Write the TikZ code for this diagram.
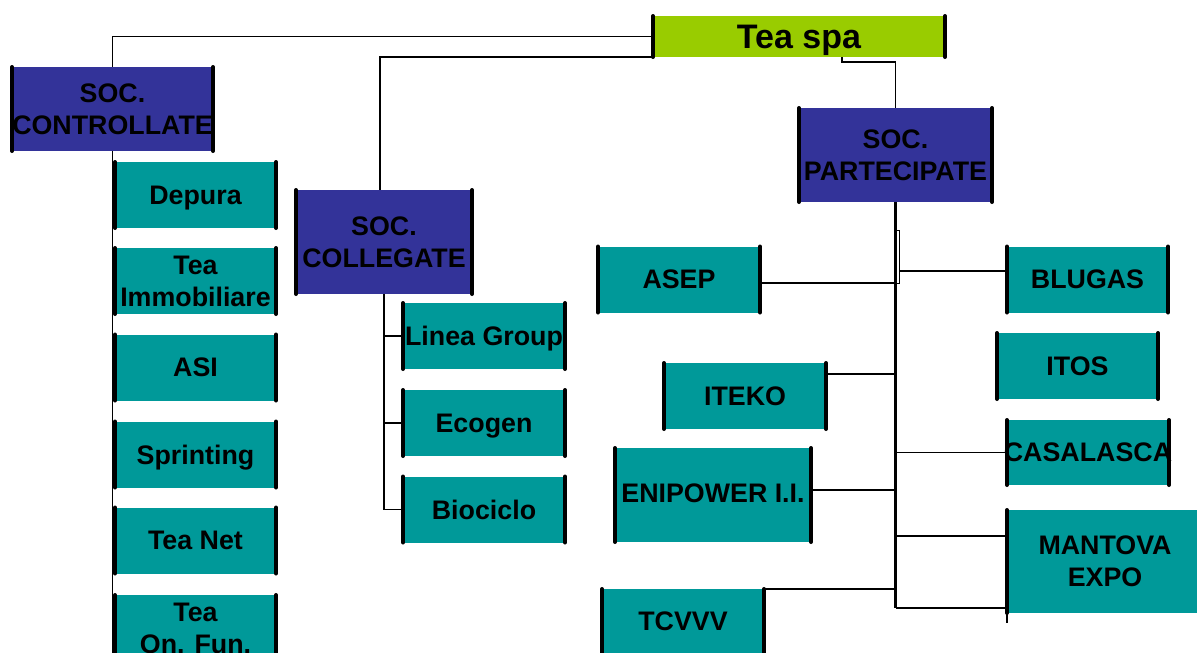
\documentclass[tikz,border=0pt]{standalone}
\usepackage{fontspec}
\setmainfont{Liberation Sans}
\definecolor{soc}{HTML}{333399}
\definecolor{comp}{HTML}{009999}
\definecolor{head}{HTML}{99CC00}
\tikzset{
  box/.style={rectangle, inner sep=0pt, outer sep=0pt, align=center, text=black,
    text depth=0pt, font=\bfseries\fontsize{26.8}{32}\selectfont},
  socbox/.style={box, fill=soc},
  cbox/.style={box, fill=comp, minimum width=161pt, minimum height=66pt},
  bar/.style={line width=4pt, line cap=round},
  link/.style={line width=1.7pt},
  trunk/.style={line width=3.5pt},
  brack/.style={line width=1pt}
}
\begin{document}
\begin{tikzpicture}[x=1pt,y=-1pt]
\useasboundingbox[fill=white] (0,0) rectangle (1197,653);
% head
\node[box, fill=head, minimum width=292pt, minimum height=41pt,
      font=\bfseries\fontsize{34}{40}\selectfont] (teaspa) at (799,36.5) {Tea spa};
% group boxes
\node[socbox, minimum width=201pt, minimum height=84pt] (ctrl) at (112.5,109) {SOC.\\\makebox[0pt][c]{CONTROLLATE}};
\node[socbox, minimum width=176pt, minimum height=104pt] (coll) at (384,242) {SOC.\\COLLEGATE};
\node[socbox, minimum width=193pt, minimum height=94pt] (part) at (895.5,155) {SOC.\\PARTECIPATE};
% controllate
\node[cbox] (depura) at (195.5,195) {Depura};
\node[cbox] (immob) at (195.5,281) {Tea\\Immobiliare};
\node[cbox] (asi) at (195.5,367.5) {ASI};
\node[cbox] (sprint) at (195.5,454.5) {Sprinting};
\node[cbox] (teanet) at (195.5,540.5) {Tea Net};
\node[cbox] (onfun) at (195.5,628) {Tea\\On. Fun.};
% collegate
\node[cbox, minimum width=162pt] (linea) at (484,336) {Linea Group};
\node[cbox, minimum width=162pt] (ecogen) at (484,423) {Ecogen};
\node[cbox, minimum width=162pt] (biociclo) at (484,509.5) {Biociclo};
% partecipate
\node[cbox, minimum width=162pt] (asep) at (679,279.5) {ASEP};
\node[cbox, minimum width=162pt] (iteko) at (745,396) {ITEKO};
\node[cbox, minimum width=196pt, minimum height=94pt] (enipower) at (713,495) {\raisebox{3pt}{ENIPOWER I.I.}};
\node[cbox, minimum width=162pt, minimum height=65pt] (tcvvv) at (683,621.5) {TCVVV};
\node[cbox] (blugas) at (1087.5,279.5) {BLUGAS};
\node[cbox] (itos) at (1077.5,366) {ITOS};
\node[cbox, minimum width=162pt, minimum height=65pt] (casalasca) at (1088,452.5) {\makebox[0pt][c]{CASALASCA}};
\node[cbox, minimum width=196pt, minimum height=103pt] (mantova) at (1105,561.5) {MANTOVA\\EXPO};
% side bars
\foreach \n in {teaspa,ctrl,coll,part,depura,immob,asi,sprint,teanet,onfun,linea,ecogen,biociclo,asep,iteko,enipower,tcvvv,blugas,itos,casalasca,mantova}
  \draw[bar] (\n.north west) -- (\n.south west) (\n.north east) -- (\n.south east);
% connectors from head
\coordinate (bottom) at (0,660);
\draw[link] (teaspa.west) -| (ctrl.north);
\draw[link] (teaspa.south west) -| ([xshift=-4pt]coll.north);
\draw[link] ([xshift=43pt]teaspa.south) -- ++(0,5) -| (part.north);
% controllate trunk
\draw[link] (ctrl.south) -- (ctrl.south |- bottom);
% collegate
\foreach \n in {linea,ecogen,biociclo}
  \draw[link] (coll.south) |- (\n.west);
% partecipate trunk
\coordinate (low) at ([yshift=-46.5pt]mantova.west);
\draw[trunk] (part.south) -- (low -| part.south);
\draw[link] (low) -- (low -| part.south);
\draw[link] ([yshift=25.5pt]mantova.west) -- ([yshift=25.5pt]mantova.west -| part.south);
\draw[link] (mantova.south west) -- ++(0,10);
\draw[link] (casalasca.west) -- (casalasca.west -| part.south);
\draw[link] ([yshift=-3.5pt]asep.east) -- ([yshift=-3.5pt]asep.east -| part.south);
\coordinate (bt) at (899,230);
\coordinate (bb) at (899,283);
\draw[brack] (part.south |- bt) -- (bt) -- (bb) -- (part.south |- bb);
\draw[link] ([yshift=8.5pt]blugas.west) -- ([yshift=8.5pt]blugas.west -| bt);
\draw[link] ([yshift=22pt]iteko.east) -- ([yshift=22pt]iteko.east -| part.south);
\draw[link] ([yshift=5pt]enipower.east) -- ([yshift=5pt]enipower.east -| part.south);
\draw[link] (tcvvv.north east) -- (tcvvv.north east -| part.south);
\end{tikzpicture}
\end{document}
